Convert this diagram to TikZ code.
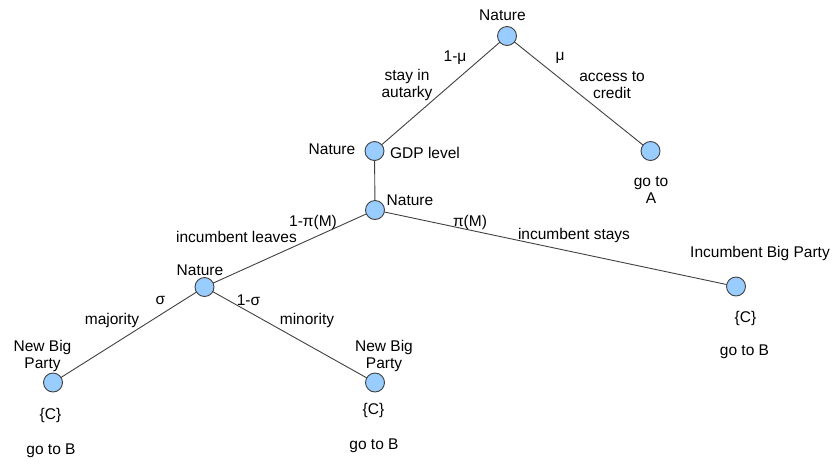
\documentclass[tikz,border=0pt]{standalone}
\usepackage{fontspec}
\setmainfont{Liberation Sans}
\usepackage{tikz}
\usepackage{tkz-graph}
\usetikzlibrary{calc,arrows,backgrounds}
\definecolor{nodeblue}{RGB}{153,204,255}
\definecolor{rimgray}{RGB}{64,64,64}
\definecolor{edgegray}{RGB}{64,64,64}
\tikzset{lbl/.style={inner sep=0pt,align=center,font=\fontsize{15.5}{17.5}\selectfont}}

\begin{document}
\begin{tikzpicture}[x=1pt,y=-1pt]
            \useasboundingbox (0,0) rectangle (837,464);
            \GraphInit[vstyle=Classic];

            \SetVertexNormal[MinSize=19pt,InnerSep=0pt,LineWidth=0.9pt,LineColor=rimgray,FillColor=nodeblue]
            \Vertex[NoLabel,x=507,y=36]{top};
            \Vertex[NoLabel,x=374.5,y=151]{gdp};
            \Vertex[NoLabel,x=650.5,y=151]{goa};
            \Vertex[NoLabel,x=375,y=210]{inc};
            \Vertex[NoLabel,x=204.5,y=287]{leave};
            \Vertex[NoLabel,x=736,y=286.5]{stay};
            \Vertex[NoLabel,x=53,y=382.5]{maj};
            \Vertex[NoLabel,x=375,y=382.5]{mino};

            \tikzset{EdgeStyle/.append style={edgegray,line width=0.9pt}};
            \Edge(top)(gdp);
            \Edge(top)(goa);
            \Edge(gdp)(inc);
            \Edge(inc)(leave);
            \Edge(inc)(stay);
            \Edge(leave)(maj);
            \Edge(leave)(mino);

            \node[lbl] (ntop) at (502.5,15){Nature};
            \node[lbl] (pmu1) at (455,58){1-μ};
            \node[lbl] (autk) at (407,85){stay in\\autarky};
            \node[lbl] (pmu) at (560,58){μ};
            \node[lbl] (cred) at (612,85){access to\\credit};
            \node[lbl] (ngdp) at (332,149){Nature};
            \node[lbl] (lgdp) at (425,153){GDP level};
            \node[lbl] (toa) at (651,190){go to\\A};
            \node[lbl] (ninc) at (410,200){Nature};
            \node[lbl] (ppi1) at (313,222){1-π(M)};
            \node[lbl] (lvs) at (236.5,237){incumbent leaves};
            \node[lbl] (ppi) at (470,222){π(M)};
            \node[lbl] (sts) at (574,235){incumbent stays};
            \node[lbl] (nlv) at (200,270){Nature};
            \node[lbl] (psg) at (160.5,300){σ};
            \node[lbl] (psg1) at (248.5,300){1-σ};
            \node[lbl] (lmaj) at (112,320){majority};
            \node[lbl] (lmin) at (307,320){minority};
            \node[lbl] (nbpl) at (42.5,356){New Big\\Party};
            \node[lbl] (cl) at (50.5,415){\{C\}};
            \node[lbl] (gbl) at (51,451){go to B};
            \node[lbl] (nbpr) at (384,356){New Big\\Party};
            \node[lbl] (cr) at (373.5,410){\{C\}};
            \node[lbl] (gbr) at (374,446){go to B};
            \node[lbl] (ibp) at (760,253){Incumbent Big Party};
            \node[lbl] (cs) at (745.5,318){\{C\}};
            \node[lbl] (gbs) at (744.5,352){go to B};
\end{tikzpicture}
\end{document}
